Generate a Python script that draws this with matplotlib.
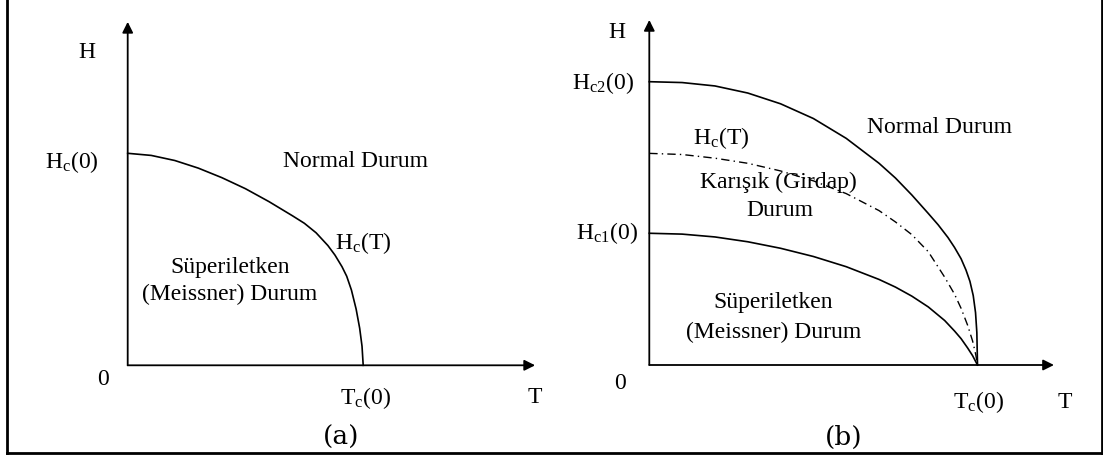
import matplotlib
matplotlib.use('Agg')
import matplotlib.pyplot as plt
from matplotlib.lines import Line2D

plt.rcParams['font.family'] = ['Liberation Serif', 'DejaVu Serif']
plt.rcParams['mathtext.fontset'] = 'custom'
plt.rcParams['mathtext.rm'] = 'Liberation Serif'
plt.rcParams['mathtext.it'] = 'Liberation Serif:italic'

# (a) type I: critical field curve, T in units of Tc, H in units of Hc(0)
t_a = [0, 0.1, 0.2, 0.3, 0.4, 0.5, 0.6, 0.7, 0.75, 0.8, 0.85, 0.88, 0.91, 0.93, 0.95, 0.97, 0.985, 0.995, 1.0]
h_a = [1.0, 0.99, 0.966, 0.93, 0.885, 0.833, 0.772, 0.705, 0.67, 0.625, 0.565, 0.52, 0.465, 0.42, 0.355, 0.265, 0.175, 0.09, 0.0]

# (b) type II: Hc2, thermodynamic Hc and Hc1, H in units of Hc2(0)
t_c2 = [0, 0.1, 0.2, 0.3, 0.4, 0.5, 0.6, 0.7, 0.75, 0.8, 0.85, 0.88, 0.91, 0.93, 0.95, 0.965, 0.977, 0.987, 0.994, 0.998, 1.0]
h_c2 = [1.0, 0.997, 0.985, 0.96, 0.922, 0.87, 0.8, 0.712, 0.66, 0.6, 0.535, 0.495, 0.45, 0.415, 0.375, 0.335, 0.295, 0.245, 0.185, 0.115, 0.0]

t_hc = [0, 0.1, 0.2, 0.3, 0.4, 0.5, 0.6, 0.7, 0.75, 0.8, 0.85, 0.9, 0.93, 0.95, 0.97, 0.985, 0.995, 1.0]
h_hc = [0.747, 0.743, 0.73, 0.712, 0.685, 0.65, 0.605, 0.545, 0.505, 0.46, 0.4, 0.31, 0.25, 0.2, 0.14, 0.085, 0.035, 0.0]

t_c1 = [0, 0.1, 0.2, 0.3, 0.4, 0.5, 0.6, 0.7, 0.75, 0.8, 0.85, 0.9, 0.93, 0.95, 0.97, 0.985, 1.0]
h_c1 = [0.465, 0.462, 0.452, 0.435, 0.412, 0.383, 0.347, 0.302, 0.275, 0.243, 0.205, 0.157, 0.12, 0.093, 0.06, 0.033, 0.0]

W, H = 1103, 459
fig = plt.figure(figsize=(W / 100, H / 100), dpi=100)


def panel(left, right, x0, y0, sx, sy):
    # axes covering [left, right] px, data origin at pixel (x0, y0), sx/sy px per unit
    ax = fig.add_axes([left / W, 0, (right - left) / W, 1])
    ax.set_xlim((left - x0) / sx, (right - x0) / sx)
    ax.set_ylim((y0 - H) / sy, y0 / sy)
    ax.axis('off')
    return ax


def axes_arrows(ax, xmax, ymax):
    kw = dict(arrowstyle='-|>', color='black', lw=1.3, mutation_scale=16, shrinkA=0, shrinkB=0)
    ax.annotate('', xy=(xmax, 0), xytext=(0, 0), arrowprops=kw)
    ax.annotate('', xy=(0, ymax), xytext=(0, 0), arrowprops=kw)


fs = 17
ax1 = panel(0, 551.5, 127.7, 365.3, 235.5, 212.0)
axes_arrows(ax1, 1.73, 1.62)
ax1.plot(t_a, h_a, color='black', lw=1.2, solid_joinstyle='round')
ax1.text(-0.173, 1.477, 'H', fontsize=fs, ha='center', va='center')
ax1.text(-0.236, 0.959, r'H$_\mathrm{c}$(0)', fontsize=fs, ha='center', va='center')
ax1.text(0.966, 0.959, 'Normal Durum', fontsize=fs, ha='center', va='center')
ax1.text(0.999, 0.579, r'H$_\mathrm{c}$(T)', fontsize=fs, ha='center', va='center')
ax1.text(0.435, 0.459, 'Süperiletken', fontsize=fs, ha='center', va='center')
ax1.text(0.431, 0.332, '(Meissner) Durum', fontsize=fs, ha='center', va='center')
ax1.text(-0.103, -0.069, '0', fontsize=fs, ha='center', va='center')
ax1.text(1.012, -0.154, r'T$_\mathrm{c}$(0)', fontsize=fs, ha='center', va='center')
ax1.text(1.73, -0.154, 'T', fontsize=fs, ha='center', va='center')
ax1.text(0.906, -0.338, '(a)', fontsize=19, family='DejaVu Serif', ha='center', va='center')

ax2 = panel(551.5, W, 649.3, 365.0, 328.2, 283.3)
axes_arrows(ax2, 1.233, 1.218)
ax2.plot(t_c2, h_c2, color='black', lw=1.2, solid_joinstyle='round')
ax2.plot(t_hc, h_hc, color='black', lw=1.0, linestyle=(0, (6, 3, 1, 3)))
ax2.plot(t_c1, h_c1, color='black', lw=1.2, solid_joinstyle='round')
ax2.text(-0.098, 1.172, 'H', fontsize=fs, ha='center', va='center')
ax2.text(-0.141, 0.995, r'H$_\mathrm{c2}$(0)', fontsize=fs, ha='center', va='center')
ax2.text(-0.129, 0.466, r'H$_\mathrm{c1}$(0)', fontsize=fs, ha='center', va='center')
ax2.text(0.218, 0.801, r'H$_\mathrm{c}$(T)', fontsize=fs, ha='center', va='center')
ax2.text(0.883, 0.837, 'Normal Durum', fontsize=fs, ha='center', va='center')
ax2.text(0.394, 0.646, 'Karışık (Girdap)', fontsize=fs, ha='center', va='center')
ax2.text(0.397, 0.547, 'Durum', fontsize=fs, ha='center', va='center')
ax2.text(0.377, 0.222, 'Süperiletken', fontsize=fs, ha='center', va='center')
ax2.text(0.38, 0.116, '(Meissner) Durum', fontsize=fs, ha='center', va='center')
ax2.text(-0.088, -0.064, '0', fontsize=fs, ha='center', va='center')
ax2.text(1.002, -0.131, r'T$_\mathrm{c}$(0)', fontsize=fs, ha='center', va='center')
ax2.text(1.267, -0.131, 'T', fontsize=fs, ha='center', va='center')
ax2.text(0.592, -0.254, '(b)', fontsize=19, family='DejaVu Serif', ha='center', va='center')

# outer frame (top edge is cut off)
yb = (H - 453) / H
for xs, ys in [([7 / W, 7 / W], [yb, 1.0]),
               ([1101.5 / W, 1101.5 / W], [yb, 1.0]),
               ([7 / W, 1101.5 / W], [yb, yb])]:
    fig.add_artist(Line2D(xs, ys, color='black', lw=2.0, transform=fig.transFigure))

fig.savefig('out.png', dpi=100)
